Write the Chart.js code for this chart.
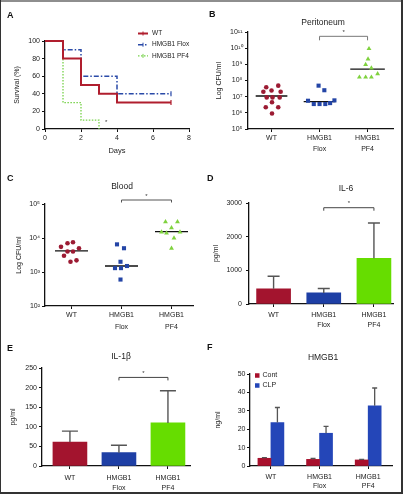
<!DOCTYPE html>
<html>
<head>
<meta charset="utf-8">
<script src="https://cdn.jsdelivr.net/npm/chart.js@4.4.1/dist/chart.umd.min.js"></script>
<style>
  html, body { margin: 0; padding: 0; background: #fff; }
  #fig { position: relative; width: 403px; height: 496px; background: #fff; overflow: hidden; }
  #fig canvas { position: absolute; }
  .rule { position: absolute; }
</style>
</head>
<body>
<div id="fig">
  <canvas id="cA" width="200" height="165" style="left:0px;top:0px"></canvas>
  <canvas id="cB" width="203" height="165" style="left:200px;top:0px"></canvas>
  <canvas id="cC" width="200" height="172" style="left:0px;top:165px"></canvas>
  <canvas id="cD" width="203" height="165" style="left:200px;top:165px"></canvas>
  <canvas id="cE" width="200" height="166" style="left:0px;top:330px"></canvas>
  <canvas id="cF" width="203" height="166" style="left:200px;top:330px"></canvas>
  <div class="rule" style="left:0;top:0;width:403px;height:2px;background:#8e8e8e"></div>
  <div class="rule" style="left:0;top:0;width:1px;height:494px;background:#333"></div>
  <div class="rule" style="left:401px;top:0;width:2px;height:494px;background:#333"></div>
  <div class="rule" style="left:0;top:492px;width:403px;height:2px;background:#333"></div>
</div>
<script>
// ---------------- DATA ----------------
const categories = ['WT', 'HMGB1 Flox', 'HMGB1 PF4'];

// A: survival (%) by day (Kaplan-Meier steps)
const kmDaysWT   = [0, 1, 2, 3, 4, 7];
const kmSurvWT   = [100, 80, 50, 40, 30, 30];
const kmDaysFlox = [0, 1, 2, 4, 7];
const kmSurvFlox = [100, 90, 60, 40, 40];
const kmDaysPF4  = [0, 1, 2, 3];
const kmSurvPF4  = [100, 30, 10, 0];
const kmLabels   = ['WT', 'HMGB1 Flox', 'HMGB1 PF4'];

// B: Peritoneum, CFU/ml (values + horizontal jitter in category units)
const perWT      = [4.8e7, 3.8e7, 2.4e7, 2.0e7, 2.0e7, 9e6, 9e6, 9e6, 4.5e6, 2.2e6, 2.2e6, 9e5];
const perWTjit   = [0.14, -0.11, 0.0, -0.17, 0.19, -0.10, 0.02, 0.17, 0.01, -0.12, 0.14, 0.01];
const perFlox    = [4.8e7, 2.5e7, 5.6e6, 5.9e6, 3.5e6, 3.5e6, 3.5e6, 4.0e6];
const perFloxJit = [-0.02, 0.10, -0.24, 0.31, -0.12, 0.0, 0.12, 0.22];
const perPF4     = [9.3e9, 2.1e9, 9.6e8, 5.9e8, 1.6e8, 1.6e8, 1.6e8, 2.6e8];
const perPF4jit  = [0.03, 0.01, -0.04, 0.08, -0.17, -0.04, 0.08, 0.21];
const perMedian  = [1.1e7, 4.9e6, 5.1e8];
const perDecades = [1e5, 1e6, 1e7, 1e8, 1e9, 1e10, 1e11];

// C: Blood, CFU/ml
const bloWT      = [5.5e3, 7.0e3, 7.5e3, 5.0e3, 3.0e3, 4.0e3, 4.0e3, 2.0e3, 2.2e3];
const bloWTjit   = [-0.21, -0.08, 0.03, 0.15, -0.15, -0.08, 0.03, -0.02, 0.10];
const bloFlox    = [6.5e3, 5.0e3, 2.0e3, 1.3e3, 1.3e3, 1.5e3, 6.0e2];
const bloFloxJit = [-0.09, 0.05, -0.02, -0.13, -0.01, 0.11, -0.02];
const bloPF4     = [3.0e4, 3.0e4, 2.0e4, 1.5e4, 1.4e4, 1.5e4, 1.0e4, 5.0e3];
const bloPF4jit  = [-0.12, 0.12, 0.0, -0.2, -0.1, 0.17, 0.05, 0.0];
const bloMedian  = [4.2e3, 1.5e3, 1.55e4];
const bloDecades = [1e2, 1e3, 1e4, 1e5];

// D: IL-6 pg/ml (mean, upper error)
const il6Mean = [450, 330, 1360];
const il6Err  = [375, 130, 1045];
// E: IL-1beta pg/ml
const il1bMean = [61, 34, 110];
const il1bErr  = [28, 19, 82];
// F: HMGB1 ng/ml
const hmgbSeries  = ['Cont', 'CLP'];
const hmgbCont    = [4.2, 3.6, 3.3];
const hmgbContErr = [0.3, 0.5, 0.3];
const hmgbCLP     = [23.6, 17.8, 32.7];
const hmgbCLPErr  = [8.2, 3.7, 9.7];

// significance brackets: [from category, to category, level]
const sigB = [1, 2, 5.4e10];
const sigC = [1, 2, 1.31e5];
const sigD = [1, 2, 2860];
const sigE = [1, 2, 226];
const starA = [3.4, 7.5];

// ---------------- STYLE ----------------
const FONT = "'Liberation Sans', Arial, Helvetica, sans-serif";
const NARROW = "'Liberation Sans Narrow', 'Arial Narrow', 'Liberation Sans', Arial, sans-serif";
Chart.defaults.font.family = FONT;
Chart.defaults.font.size = 7;
Chart.defaults.color = '#222';
Chart.defaults.animation = false;
Chart.defaults.responsive = false;
Chart.defaults.devicePixelRatio = 1;
Chart.defaults.plugins.legend.display = false;
Chart.defaults.plugins.tooltip.enabled = false;

const C_WT = '#a3142e', C_FLOX = '#1e3fa5', C_PF4 = '#66dd00';
const C_WT_PT = '#9c1b33', C_FLOX_PT = '#2445a6', C_PF4_PT = '#7fd23e';
const C_WT_LN = '#b01e2e', C_FLOX_LN = '#2a4aa8', C_PF4_LN = '#77d24a';
const C_CONT = '#a8102c', C_CLP = '#2446b8';

const SUP = {'0':'\u2070','1':'\u00b9','2':'\u00b2','3':'\u00b3','4':'\u2074','5':'\u2075','6':'\u2076','7':'\u2077','8':'\u2078','9':'\u2079'};
const pow10 = v => '10' + String(Math.round(Math.log10(v))).split('').map(c => SUP[c]).join('');

// page-coordinate placement helper
function place(cx, cy, cw, ch, L, T, R, B) {
  return { padding: { left: 0, top: T - cy, right: cx + cw - R, bottom: 0 }, yW: L - cx, xH: cy + ch - B };
}

// ---------------- PLUGINS ----------------
const panelText = {
  id: 'panelText',
  afterDraw(chart, args, o) {
    const ctx = chart.ctx; ctx.save();
    ctx.fillStyle = '#111'; ctx.textAlign = 'left'; ctx.textBaseline = 'alphabetic';
    ctx.font = `bold 9px ${FONT}`; ctx.fillText(o.letter, o.lx, o.ly);
    if (o.title) {
      ctx.font = `8.5px ${FONT}`; ctx.fillStyle = '#222';
      ctx.textAlign = 'center'; ctx.textBaseline = 'middle';
      ctx.fillText(o.title, o.tx, o.ty);
    }
    ctx.restore();
  }
};

const sigBracket = {
  id: 'sigBracket',
  afterDraw(chart, args, o) {
    if (!o.sig) return;
    const xs = chart.scales.x, ys = chart.scales.y, ctx = chart.ctx;
    const x1 = xs.getPixelForValue(o.sig[0]), x2 = xs.getPixelForValue(o.sig[1]);
    const y = ys.getPixelForValue(o.sig[2]);
    ctx.save();
    ctx.strokeStyle = o.color; ctx.lineWidth = 1;
    ctx.beginPath(); ctx.moveTo(x1, y + o.leg); ctx.lineTo(x1, y); ctx.lineTo(x2, y); ctx.lineTo(x2, y + o.leg); ctx.stroke();
    ctx.fillStyle = '#333'; ctx.font = `6px ${FONT}`; ctx.textAlign = 'center'; ctx.textBaseline = 'middle';
    ctx.fillText('*', (x1 + x2) / 2, y - o.starGap);
    ctx.restore();
  }
};

const errBars = {
  id: 'errBars',
  afterDatasetsDraw(chart, args, o) {
    const ys = chart.scales.y, ctx = chart.ctx;
    chart.data.datasets.forEach((ds, di) => {
      if (!ds.errors) return;
      const meta = chart.getDatasetMeta(di);
      meta.data.forEach((el, i) => {
        const top = ys.getPixelForValue(ds.data[i].y + ds.errors[i]);
        ctx.save(); ctx.strokeStyle = o.color; ctx.lineWidth = o.width;
        ctx.beginPath();
        ctx.moveTo(el.x, el.y); ctx.lineTo(el.x, top);
        ctx.moveTo(el.x - o.cap / 2, top); ctx.lineTo(el.x + o.cap / 2, top);
        ctx.stroke(); ctx.restore();
      });
    });
  }
};

const kmLegend = {
  id: 'kmLegend',
  afterDraw(chart, args, o) {
    const ctx = chart.ctx;
    ctx.save();
    chart.data.datasets.forEach((ds, i) => {
      const y = o.y0 + i * o.dy;
      ctx.strokeStyle = ds.borderColor; ctx.lineWidth = ds.borderWidth; ctx.setLineDash(ds.borderDash || []);
      ctx.beginPath(); ctx.moveTo(o.x, y); ctx.lineTo(o.x + o.len, y); ctx.stroke();
      ctx.setLineDash([]);
      ctx.lineWidth = 1;
      ctx.beginPath(); ctx.moveTo(o.x + o.len / 2, y - 2); ctx.lineTo(o.x + o.len / 2, y + 2); ctx.stroke();
      ctx.fillStyle = '#222'; ctx.font = `6.5px ${FONT}`; ctx.textAlign = 'left'; ctx.textBaseline = 'middle';
      ctx.fillText(ds.label, o.x + o.len + 4, y);
    });
    // significance star
    const xs = chart.scales.x, ys = chart.scales.y;
    ctx.fillStyle = '#333'; ctx.font = `6px ${FONT}`; ctx.textAlign = 'center';
    ctx.fillText('*', xs.getPixelForValue(starA[0]), ys.getPixelForValue(starA[1]));
    ctx.restore();
  }
};

const boxLegend = {
  id: 'boxLegend',
  afterDraw(chart, args, o) {
    const ctx = chart.ctx; ctx.save();
    chart.data.datasets.forEach((ds, i) => {
      const y = o.y0 + i * o.dy;
      ctx.fillStyle = ds.backgroundColor; ctx.fillRect(o.x, y - o.box / 2, o.box, o.box);
      ctx.fillStyle = '#222'; ctx.font = `7px ${FONT}`; ctx.textAlign = 'left'; ctx.textBaseline = 'middle';
      ctx.fillText(ds.label, o.x + o.box + 3, y);
    });
    ctx.restore();
  }
};

// ---------------- AXES ----------------
function yAxis(cfg) {
  return {
    type: cfg.type || 'linear', min: cfg.min, max: cfg.max,
    afterFit: s => { s.width = cfg.yW; },
    afterBuildTicks: cfg.ticksAt ? (s => { s.ticks = cfg.ticksAt.map(v => ({ value: v })); }) : undefined,
    grid: { display: true, drawOnChartArea: false, drawTicks: true, tickLength: 3, color: '#111', lineWidth: 1 },
    border: { display: true, color: '#111', width: 1.3 },
    ticks: { stepSize: cfg.step, padding: cfg.tickPad, color: '#222', font: { size: 7 },
             callback: cfg.fmt || (v => v) },
    title: { display: true, text: cfg.title, color: '#222', font: { family: NARROW, size: 7 }, padding: { top: cfg.titlePad, bottom: 0 } }
  };
}
function xCatAxis(cfg) {
  return {
    type: 'linear', min: cfg.min, max: cfg.max, offset: false,
    afterFit: s => { s.height = cfg.xH; },
    afterBuildTicks: s => { s.ticks = categories.map((c, i) => ({ value: i })); },
    grid: { display: true, drawOnChartArea: false, drawTicks: true, tickLength: 3, color: '#111', lineWidth: 1, offset: false },
    border: { display: true, color: '#111', width: 1.3 },
    ticks: { padding: cfg.tickPad, autoSkip: false, maxRotation: 0, color: '#222', font: { size: 7, lineHeight: cfg.lh },
             callback: v => categories[v] ? categories[v].split(' ') : '' }
  };
}

// ---------------- PANEL A ----------------
(function () {
  const p = place(0, 0, 200, 165, 45, 41, 189, 129);
  const mk = (label, days, surv, color, width, dash, censor) => ({
    label, data: days.map((d, i) => ({ x: d, y: surv[i] })),
    borderColor: color, borderWidth: width, borderDash: dash, stepped: true, fill: false,
    pointStyle: 'line', rotation: 90, pointBorderColor: color, pointBorderWidth: 1.2,
    pointRadius: c => (censor && c.dataIndex === days.length - 1) ? 2.5 : 0, clip: false
  });
  new Chart(document.getElementById('cA'), {
    type: 'line',
    data: { datasets: [
      mk(kmLabels[0], kmDaysWT, kmSurvWT, C_WT_LN, 2, [], true),
      mk(kmLabels[1], kmDaysFlox, kmSurvFlox, C_FLOX_LN, 1.5, [5, 2, 1.5, 2], true),
      mk(kmLabels[2], kmDaysPF4, kmSurvPF4, C_PF4_LN, 1.3, [1.5, 1.5], false)
    ] },
    options: {
      layout: { padding: p.padding },
      scales: {
        x: { type: 'linear', min: 0, max: 8,
             afterFit: s => { s.height = p.xH; },
             grid: { display: true, drawOnChartArea: false, tickLength: 3, color: '#111' },
             border: { display: true, color: '#111', width: 1.3 },
             ticks: { stepSize: 2, padding: 2, color: '#222', font: { size: 7 } },
             title: { display: true, text: 'Days', color: '#222', font: { family: NARROW, size: 7.5 }, padding: { top: 0, bottom: 9.5 } } },
        y: yAxis({ min: 0, max: 100, step: 20, yW: p.yW, tickPad: 2, title: 'Survival (%)', titlePad: 12.5 })
      },
      plugins: {
        panelText: { letter: 'A', lx: 7, ly: 18 },
        kmLegend: { x: 138, y0: 33.5, dy: 11.2, len: 10 }
      }
    },
    plugins: [panelText, kmLegend]
  });
})();

// ---------------- SCATTER PANELS (B, C) ----------------
function scatterPanel(id, p, xr, yr, decades, groups, medians, medHW, text, sig, tick) {
  const pts = (vals, jit, g) => vals.map((v, i) => ({ x: g + jit[i], y: v }));
  const medData = [];
  medians.forEach((m, i) => { medData.push({ x: i - medHW[i], y: m }, { x: i + medHW[i], y: m }, { x: i, y: null }); });
  new Chart(document.getElementById(id), {
    type: 'scatter',
    data: { datasets: [
      { label: categories[0], data: pts(groups[0][0], groups[0][1], 0), pointStyle: 'circle', pointRadius: 2.3, backgroundColor: C_WT_PT, borderColor: C_WT_PT, borderWidth: 0 },
      { label: categories[1], data: pts(groups[1][0], groups[1][1], 1), pointStyle: 'rect', pointRadius: 2.9, backgroundColor: C_FLOX_PT, borderColor: C_FLOX_PT, borderWidth: 0 },
      { label: categories[2], data: pts(groups[2][0], groups[2][1], 2), pointStyle: 'triangle', pointRadius: 2.8, backgroundColor: C_PF4_PT, borderColor: C_PF4_PT, borderWidth: 0 },
      { type: 'line', label: 'median', data: medData, showLine: true, spanGaps: false, borderColor: '#111', borderWidth: 1.3, pointRadius: 0 }
    ] },
    options: {
      layout: { padding: p.padding },
      scales: {
        x: xCatAxis({ min: xr[0], max: xr[1], xH: p.xH, tickPad: tick.xPad, lh: tick.lh }),
        y: yAxis({ type: 'logarithmic', min: yr[0], max: yr[1], yW: p.yW, ticksAt: decades, fmt: pow10, tickPad: tick.yPad, title: 'Log CFU/ml', titlePad: tick.titlePad })
      },
      plugins: { panelText: text, sigBracket: sig }
    },
    plugins: [panelText, sigBracket]
  });
}

scatterPanel('cB', place(200, 0, 203, 165, 248, 32, 393, 129), [-0.49, 2.53], [1e5, 1e11], perDecades,
  [[perWT, perWTjit], [perFlox, perFloxJit], [perPF4, perPF4jit]], perMedian, [0.33, 0.33, 0.36],
  { letter: 'B', lx: 9, ly: 17, title: 'Peritoneum', tx: 123, ty: 23 },
  { sig: sigB, color: '#777', leg: 4, starGap: 4 },
  { xPad: 1, lh: 1.5, yPad: 2.5, titlePad: 14.5 });

scatterPanel('cC', place(0, 165, 200, 172, 45, 204, 193, 306), [-0.53, 2.43], [1e2, 1e5], bloDecades,
  [[bloWT, bloWTjit], [bloFlox, bloFloxJit], [bloPF4, bloPF4jit]], bloMedian, [0.33, 0.33, 0.33],
  { letter: 'C', lx: 7, ly: 16, title: 'Blood', tx: 122, ty: 22 },
  { sig: sigC, color: '#555', leg: 2.5, starGap: 4 },
  { xPad: 0, lh: 1.7, yPad: 2, titlePad: 14.5 });

// ---------------- BAR PANELS (D, E) ----------------
function barPanel(id, p, xr, means, errs, yCfg, text, sig, cap, thick, tick) {
  new Chart(document.getElementById(id), {
    type: 'bar',
    data: { datasets: [{
      label: yCfg.title, data: means.map((v, i) => ({ x: i, y: v })), errors: errs,
      backgroundColor: [C_WT, C_FLOX, C_PF4], borderWidth: 0, barThickness: thick
    }] },
    options: {
      layout: { padding: p.padding },
      scales: {
        x: xCatAxis({ min: xr[0], max: xr[1], xH: p.xH, tickPad: tick.xPad, lh: tick.lh }),
        y: yAxis({ min: yCfg.min, max: yCfg.max, step: yCfg.step, yW: p.yW, tickPad: tick.yPad, title: yCfg.title, titlePad: tick.titlePad })
      },
      plugins: { panelText: text, sigBracket: sig, errBars: { color: '#555', width: 1.4, cap } }
    },
    plugins: [panelText, sigBracket, errBars]
  });
}

barPanel('cD', place(200, 165, 203, 165, 249, 203, 393, 304), [-0.49, 2.38], il6Mean, il6Err,
  { min: 0, max: 3000, step: 1000, title: 'pg/ml' },
  { letter: 'D', lx: 7, ly: 16, title: 'IL-6', tx: 146, ty: 24 },
  { sig: sigD, color: '#444', leg: 3, starGap: 4 }, 12, 34,
  { xPad: 3, lh: 1.45, yPad: 4, titlePad: 11.5 });

barPanel('cE', place(0, 330, 200, 166, 42, 368, 190, 466), [-0.57, 2.45], il1bMean, il1bErr,
  { min: 0, max: 250, step: 50, title: 'pg/ml' },
  { letter: 'E', lx: 7, ly: 21, title: 'IL-1\u03b2', tx: 121, ty: 27 },
  { sig: sigE, color: '#444', leg: 3, starGap: 4 }, 16, 34,
  { xPad: 4, lh: 1.45, yPad: 2, titlePad: 8.5 });

// ---------------- PANEL F ----------------
(function () {
  const p = place(200, 330, 203, 166, 250, 374, 392, 466);
  new Chart(document.getElementById('cF'), {
    type: 'bar',
    data: { datasets: [
      { label: hmgbSeries[0], data: hmgbCont.map((v, i) => ({ x: i, y: v })), errors: hmgbContErr, backgroundColor: C_CONT, borderWidth: 0, barThickness: 13 },
      { label: hmgbSeries[1], data: hmgbCLP.map((v, i) => ({ x: i, y: v })), errors: hmgbCLPErr, backgroundColor: C_CLP, borderWidth: 0, barThickness: 13 }
    ] },
    options: {
      layout: { padding: p.padding },
      scales: {
        x: xCatAxis({ min: -0.43, max: 2.49, xH: p.xH, tickPad: 3, lh: 1.35 }),
        y: yAxis({ min: 0, max: 50, step: 10, yW: p.yW, tickPad: 1.5, title: 'ng/ml', titlePad: 13.5 })
      },
      plugins: {
        panelText: { letter: 'F', lx: 7, ly: 20, title: 'HMGB1', tx: 123, ty: 28 },
        errBars: { color: '#555', width: 1.3, cap: 5 },
        boxLegend: { x: 55, y0: 45.5, dy: 10, box: 4.5 }
      }
    },
    plugins: [panelText, errBars, boxLegend]
  });
})();
</script>
</body>
</html>
